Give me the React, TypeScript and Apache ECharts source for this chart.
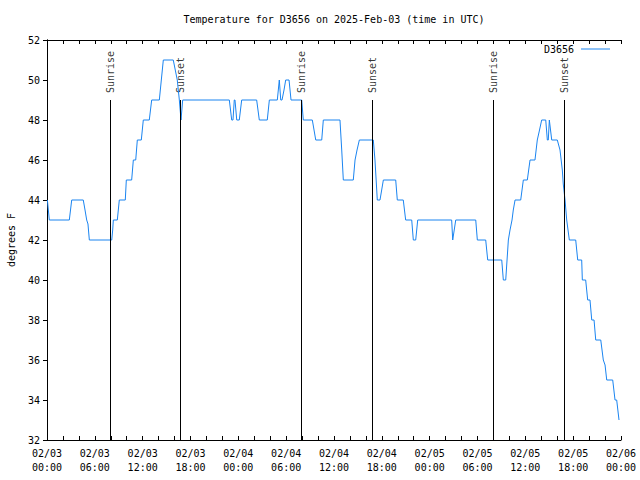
import React, { useEffect, useRef } from "react";
import * as echarts from "echarts";

// Hours since 2025-02-03 00:00 UTC
const hours = [
  0.05, 0.29, 2.8, 3.1, 4.55, 4.77, 4.98, 5.14, 5.31, 8.12, 8.24, 8.32, 8.82, 9.07, 9.82, 9.95,
  10.62, 10.83, 11.13, 11.33, 11.83, 12.08, 12.83, 13.13, 14.09, 14.34, 14.59, 15.84, 16.34, 16.6,
  16.68, 16.81, 17.02, 22.87, 23.17, 23.33, 23.49, 23.58, 23.8, 24.12, 24.42, 26.3, 26.63, 27.63,
  27.89, 28.89, 29.14, 29.32, 29.48, 29.73, 29.94, 30.36, 30.61, 31.95, 32.15, 33.28, 33.71, 34.46,
  34.66, 36.75, 36.97, 37.17, 38.42, 38.64, 38.89, 39.18, 40.93, 41.14, 41.36, 41.43, 41.77, 41.98,
  42.19, 43.74, 43.94, 44.69, 44.99, 45.75, 45.95, 46.25, 46.5, 50.76, 50.89, 51.27, 53.78, 53.98,
  55.03, 55.28, 57.04, 57.24, 57.54, 57.79, 57.87, 58.08, 58.33, 58.49, 58.71, 59.42, 59.75, 60.25,
  60.59, 61.21, 61.5, 61.78, 62.05, 62.56, 62.76, 62.88, 63.01, 63.31, 64.01, 64.35, 64.64, 64.76,
  64.98, 65.19, 65.52, 66.32, 66.57, 67.07, 67.15, 67.57, 67.82, 68.11, 68.33, 68.62, 68.83, 69.46,
  69.78, 70.0, 70.21, 70.96, 71.25, 71.46, 71.75,
];

const tempF = [
  44, 43, 43, 44, 44, 43.5, 43, 42.8, 42, 42, 42.5, 43, 43, 44, 44, 45,
  45, 46, 46, 47, 47, 48, 48, 49, 49, 50, 51, 51, 50, 49,
  49, 48, 49, 49, 48, 48, 49, 49, 48, 48, 49, 49, 48, 48,
  49, 49, 50, 49, 49, 49.5, 50, 50, 49, 49, 48, 48, 47, 47,
  48, 48, 46.5, 45, 45, 46, 46.5, 47, 47, 46, 44.5, 44, 44, 44.5,
  45, 45, 44, 44, 43, 43, 42, 42, 43, 43, 42, 43, 43, 42,
  42, 41, 41, 40, 40, 41.5, 42, 42.5, 43, 43.5, 44, 44, 45, 45,
  46, 46, 47, 47.5, 48, 48, 47, 47, 48, 47, 47, 46.5, 45.5, 44.8,
  44, 43, 42, 42, 41, 41, 40, 40, 39, 39, 38, 38, 37, 37,
  36, 35.75, 35, 35, 34, 34, 33,
];

const eventHours = [7.94, 16.73, 31.88, 40.81, 55.98, 64.93];
const eventNames = ["Sunrise", "Sunset", "Sunrise", "Sunset", "Sunrise", "Sunset"];

const seriesName = "D3656";
const titleText = "Temperature for D3656 on 2025-Feb-03 (time in UTC)";
const yAxisName = "degrees F";
const yMin = 32;
const yMax = 52;
const yStep = 2;
const xMin = 0;
const xMax = 72;
const xStep = 6;
const eventTop = 49;

const FONT = '"DejaVu Sans Mono", monospace';
const LINE_COLOR = "#1a84f0";

function xLabel(v: number): string {
  const d = 3 + Math.floor(v / 24);
  const h = v % 24;
  return `02/${String(d).padStart(2, "0")}\n${String(h).padStart(2, "0")}:00`;
}

export default function App() {
  const ref = useRef<HTMLDivElement>(null);

  useEffect(() => {
    if (!ref.current) return;
    const chart = echarts.init(ref.current, undefined, { renderer: "svg" });
    const textStyle = { fontFamily: FONT, fontSize: 10, color: "#000" };
    const axisLine = { show: true, lineStyle: { color: "#000", width: 1 } };

    chart.setOption({
      animation: false,
      backgroundColor: "#fff",
      textStyle,
      graphic: [
        {
          type: "text",
          x: 334,
          y: 19,
          style: {
            text: titleText,
            align: "center",
            verticalAlign: "middle",
            font: `10px ${FONT}`,
            fill: "#000",
          },
        },
      ],
      legend: {
        data: [seriesName],
        right: 30,
        top: 44,
        padding: 0,
        align: "right",
        icon: "rect",
        itemWidth: 29,
        itemHeight: 1,
        textStyle: { ...textStyle, padding: [0, 2, 0, 0] },
      },
      grid: {
        left: 47,
        right: 19,
        top: 40,
        bottom: 40,
        containLabel: false,
        outerBoundsMode: "none",
      },
      xAxis: [
        {
          type: "value",
          position: "bottom",
          min: xMin,
          max: xMax,
          interval: xStep,
          axisLine,
          axisTick: { show: true, inside: true, length: 4, lineStyle: { color: "#000" } },
          minorTick: { show: true, splitNumber: 3, length: 4, lineStyle: { color: "#000" } },
          splitLine: { show: false },
          axisLabel: {
            ...textStyle,
            lineHeight: 14,
            margin: 6,
            formatter: xLabel,
          },
        },
        {
          type: "value",
          position: "top",
          min: xMin,
          max: xMax,
          interval: xStep,
          axisLine,
          axisTick: { show: true, inside: true, length: 4, lineStyle: { color: "#000" } },
          minorTick: { show: true, splitNumber: 3, length: 4, lineStyle: { color: "#000" } },
          splitLine: { show: false },
          axisLabel: { show: false },
        },
      ],
      yAxis: [
        {
          type: "value",
          position: "left",
          min: yMin,
          max: yMax,
          interval: yStep,
          axisLine,
          axisTick: { show: false },
          splitLine: { show: false },
          axisLabel: { ...textStyle, margin: 7 },
          name: yAxisName,
          nameLocation: "middle",
          nameRotate: 90,
          nameGap: 31,
          nameTextStyle: textStyle,
        },
        {
          type: "value",
          position: "right",
          min: yMin,
          max: yMax,
          interval: yStep,
          axisLine,
          axisTick: { show: true, inside: true, length: 4, lineStyle: { color: "#000" } },
          splitLine: { show: false },
          axisLabel: { show: false },
        },
      ],
      series: [
        {
          name: seriesName,
          type: "line",
          xAxisIndex: 0,
          yAxisIndex: 0,
          symbol: "none",
          showSymbol: false,
          color: LINE_COLOR,
          lineStyle: { color: LINE_COLOR, width: 1 },
          data: hours.map((h, i) => [h, tempF[i]]),
          z: 3,
        },
        {
          name: "events",
          type: "scatter",
          xAxisIndex: 0,
          yAxisIndex: 0,
          symbolSize: 0,
          silent: true,
          data: eventHours.map((h, i) => ({ value: [h, eventTop], name: eventNames[i] })),
          label: {
            show: true,
            formatter: "{b}",
            position: [0, -7],
            rotate: 90,
            align: "left",
            verticalAlign: "middle",
            ...textStyle,
          },
          markLine: {
            silent: true,
            symbol: ["none", "none"],
            label: { show: false },
            lineStyle: { color: "#000", width: 1, type: "solid" },
            data: eventHours.map((h) => [{ coord: [h, yMin] }, { coord: [h, eventTop] }]),
          },
          z: 2,
        },
      ],
    });

    return () => chart.dispose();
  }, []);

  return (
    <div
      ref={ref}
      style={{ position: "fixed", left: 0, top: 0, width: 640, height: 480, background: "#fff" }}
    />
  );
}
